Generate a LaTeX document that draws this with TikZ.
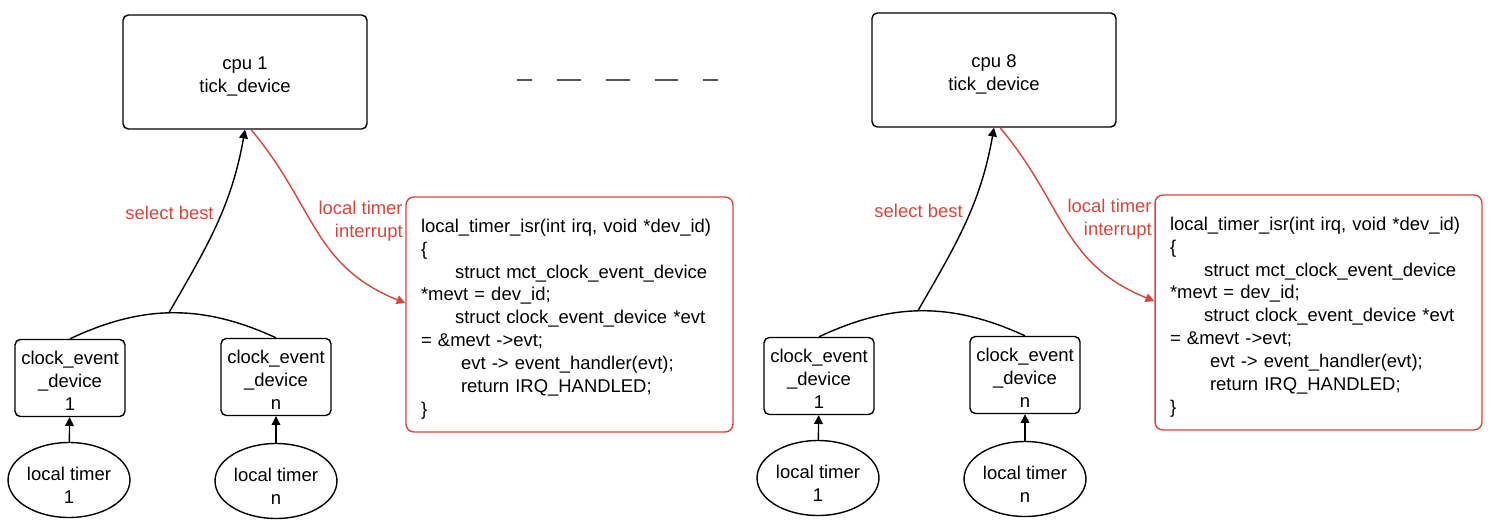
\documentclass[tikz,border=0pt]{standalone}
\usepackage{fontspec}
\setmainfont{Liberation Sans}
\usepackage{tikz}
\usetikzlibrary{arrows.meta,shapes.geometric}

\definecolor{irqred}{RGB}{215,70,60}
\definecolor{gapgray}{RGB}{85,85,85}

\begin{document}
\begin{tikzpicture}[
    x=0.02cm, y=0.02cm,
    font=\fontsize{10.5}{13}\selectfont,
    lower/.style={execute at begin node={\rule{0pt}{#1}}},
    cpubox/.style={rectangle, draw, line width=0.8pt, rounded corners=3pt, minimum width=4.88cm, minimum height=2.28cm, align=center, lower=25.5pt},
    cebox/.style={rectangle, draw, line width=0.8pt, rounded corners=3pt, minimum width=2.2cm, minimum height=1.54cm, inner sep=1pt, align=center, lower=37pt},
    timer/.style={ellipse, draw, line width=0.8pt, minimum width=2.44cm, minimum height=1.5cm, inner sep=0pt, align=center, lower=27pt},
    codebox/.style={rectangle, draw=irqred, line width=0.8pt, rounded corners=4.5pt, minimum width=6.54cm, minimum height=4.7cm, inner xsep=0.3cm, text width=5.94cm, align=left, lower=12.8pt},
    lbl/.style={text=irqred, inner sep=0pt, align=right},
    line/.style={line width=0.8pt},
    arrow/.style={-{Triangle[length=5pt, width=5pt]}, line width=0.8pt},
    irqarrow/.style={-{Triangle[length=5pt, width=5pt]}, line width=0.8pt, irqred}
]
\useasboundingbox (0,0) rectangle (1494,525);

% dashes between the two cpus
\coordinate (gapL) at (517,445);
\coordinate (gapR) at (718,445);
\draw[gapgray, line width=1.1pt, dash pattern=on 13.6pt off 14.2pt, dash phase=5.1pt] (gapL) -- (gapR);

\foreach \s/\c/\dx/\dy in {a/1/0/0, b/8/749/2} {
\begin{scope}[shift={(\dx,\dy)}]
% Nodes
\node[cpubox] (cpu\s) at (245,453) {cpu \c\\tick\_device};

\node[cebox] (ce\s1) at (70,147) {clock\_event\\\_device\\1};
\node[cebox] (ce\s N) at (276,148) {clock\_event\\\_device\\n};

\node[timer] (lt\s1) at (69,45) {local timer\\1};
\node[timer] (lt\s N) at (276,44) {local timer\\n};

\node[codebox] (code\s) at (569.5,210.5) {
    local\_timer\_isr(int irq, void *dev\_id)\\
    \{\\
    \hspace*{0.68cm}struct mct\_clock\_event\_device\\{}
    *mevt = dev\_id;\\
    \hspace*{0.68cm}struct clock\_event\_device *evt\\
    = \&mevt ->evt;\\
    \hspace*{0.8cm}evt -> event\_handler(evt);\\
    \hspace*{0.8cm}return IRQ\_HANDLED;\\
    \}
};

\node[lbl, anchor=east] (sel\s) at (214,312) {select best};
\node[lbl, anchor=east] (irq\s) at (403,304) {local timer\\interrupt};

% Arrows
\draw[arrow] (lt\s1) -- (ce\s1);
\draw[arrow] (lt\s N) -- (ce\s N);
\draw[line] (ce\s1.north) to[bend left=25] coordinate[pos=0.48] (join\s) (ce\s N.north);
\draw[arrow] (join\s) to[out=60, in=-100] (cpu\s.south);
\draw[irqarrow] (cpu\s.-84) to[out=-50, in=158, looseness=1.1] (code\s.176);
\end{scope}
}

\end{tikzpicture}
\end{document}
